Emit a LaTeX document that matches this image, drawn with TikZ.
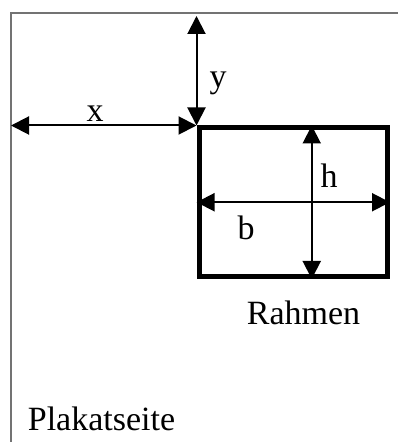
\documentclass[tikz,border=0pt]{standalone}
\usepackage{fontspec}
\setmainfont{Liberation Serif}
\usetikzlibrary{arrows.meta, positioning, calc}

\begin{document}
\begin{tikzpicture}[x=1pt, y=1pt,
    dim/.style={{Triangle[length=18pt,width=18pt]}-{Triangle[length=18pt,width=18pt]}, line width=2pt},
    lbl/.style={inner sep=0pt, anchor=base, font=\fontsize{34}{40}\selectfont}]
    \useasboundingbox (0,0) rectangle (398,442);
    % Plakatseite
    \coordinate (ecke) at (11,429);
    \draw[black!55, line width=1.5pt] (11,0) -- (ecke) -- (398,429);

    % Rahmen
    \node (rahmen) [draw, line width=5pt, inner sep=0pt, minimum width=188.5pt, minimum height=148.5pt] at (293.25,239.75) {};
    \coordinate (links) at (ecke |- rahmen.north west);
    \coordinate (oben) at ($(rahmen.north west |- ecke)+(0,-3)$);
    \coordinate (hoben) at ($(rahmen.north)+(18.5,0)$);
    \coordinate (hunten) at ($(rahmen.south)+(18.5,0)$);

    % Masspfeile
    \draw[dim] (links) -- (rahmen.north west);
    \draw[dim] (oben) -- (rahmen.north west);
    \draw[dim] (hoben) -- (hunten);
    \draw[dim] (rahmen.west) -- (rahmen.east);

    % Beschriftung
    \node (ly) [lbl] at (218,354) {y};
    \node (lx) [lbl] at (95,320) {x};
    \node (lh) [lbl] at (329,254) {h};
    \node (lb) [lbl] at (246,202) {b};
    \node (lrahmen) [lbl] at (303.5,117) {Rahmen};
    \node (lseite) [lbl] at (101.5,12) {Plakatseite};
\end{tikzpicture}
\end{document}
